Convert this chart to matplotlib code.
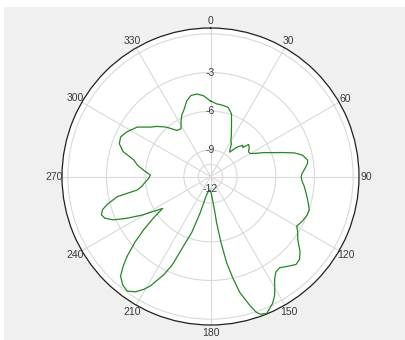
import numpy as np
import matplotlib.pyplot as plt
from matplotlib.patches import Rectangle

# radiation pattern, gain in dB versus azimuth in degrees (clockwise from north)
angles = [0, 4.8, 9, 14.3, 18.5, 20.6, 26.1, 30, 32.6, 35, 38.2, 42, 46, 48, 50, 53, 57, 60,
          63, 66, 69, 71.6, 74.3, 77, 80.4, 82.3, 85, 88, 90, 93, 96, 99.9, 103.7, 108.6,
          112, 116, 120, 122, 125.9, 130, 133, 135.8, 139, 142.9, 145.5, 148.1, 150, 151.8,
          154, 157.7, 160, 161.3, 163, 165.8, 167.6, 169.4, 171, 172.5, 173.1, 174.6, 176.5,
          179, 182, 186, 190, 192.7, 195.9, 198.5, 201.2, 203.4, 205.5, 208.8, 210.6, 213,
          216, 219, 222.1, 224.2, 226.3, 229, 231.5, 234, 236.3, 238.5, 240.5, 243.5, 246,
          248.5, 250.7, 252.9, 255, 257.8, 259.6, 262, 264.2, 268, 271.4, 275, 278.9, 282.1,
          286, 289.8, 293.7, 298, 304, 309.5, 313.2, 318, 324, 328.3, 332, 335, 337.8, 342.7,
          346.5, 350.6, 355, 359.6]
gain = [-5.2, -5.41, -5.45, -5.53, -5.94, -6.43, -7.38, -7.9, -8.05, -8.4, -8.66, -8.0, -7.58,
        -7.7, -7.2, -7.3, -7.55, -7.5, -7.1, -6.5, -5.9, -5.17, -4.3, -3.73, -3.43, -3.47,
        -3.7, -3.95, -4.04, -3.95, -3.75, -3.54, -3.3, -2.98, -3.0, -3.15, -3.35, -3.1, -2.71,
        -2.0, -1.63, -1.55, -1.85, -2.19, -2.1, -1.66, -1.1, -0.55, -0.1, 0.42, 0.3, 0.07,
        -0.6, -1.78, -3.0, -4.27, -5.9, -7.45, -8.33, -9.12, -9.6, -9.9, -10.0, -9.95, -9.8,
        -9.5, -8.14, -6.5, -5.28, -3.6, -2.6, -1.38, -0.9, -0.4, -0.08, -0.25, -0.66, -1.35,
        -2.13, -3.3, -4.46, -5.6, -6.6, -5.9, -5.0, -3.8, -2.8, -2.25, -2.1, -2.3, -2.8,
        -3.67, -5.3, -5.7, -5.9, -6.25, -6.4, -5.9, -5.32, -4.99, -4.0, -3.55, -3.45, -3.7,
        -4.21, -5.04, -5.39, -5.9, -6.65, -6.71, -6.2, -5.8, -5.55, -4.9, -4.6, -4.58, -4.77,
        -5.18]

r_ticks = [-12, -9, -6, -3]
theta_ticks = list(range(0, 360, 30))
rmin, rmax = -11.06, 0.45

fig = plt.figure(figsize=(4.06, 3.40), dpi=100, facecolor='#f0f0f0')
# thin white margin along the top and left edge
fig.patches.append(Rectangle((0, 333 / 340), 1, 7 / 340, transform=fig.transFigure,
                             facecolor='white', edgecolor='none', zorder=-10))
fig.patches.append(Rectangle((0, 0), 4 / 406, 1, transform=fig.transFigure,
                             facecolor='white', edgecolor='none', zorder=-10))

ax = fig.add_axes([62 / 406, 15 / 340, 297 / 406, 297 / 340], projection='polar')
ax.set_theta_zero_location('N')
ax.set_theta_direction(-1)
ax.set_ylim(rmin, rmax)
ax.set_facecolor('white')

ax.set_xticks(np.radians(theta_ticks))
ax.set_xticklabels([])
ax.set_yticks([-9, -6, -3, 0])
ax.set_yticklabels([])
ax.grid(True, color='#d9d9d9', lw=0.8)
ax.spines['polar'].set_color('#202020')
ax.spines['polar'].set_linewidth(0.9)
ax.tick_params(length=0)

# -12 sits below the axis origin, so its ring shows up mirrored around the centre
r12 = 2 * rmin - r_ticks[0]
tt = np.linspace(0, 2 * np.pi, 200)
ax.plot(tt, np.full_like(tt, r12), color='#d9d9d9', lw=0.8, zorder=1)

lab = dict(fontsize=7.5, color='#3a3a3a', family='Liberation Sans', ha='center', va='center')
ax.text(np.pi, r12, str(r_ticks[0]), **lab, zorder=4)
for v in r_ticks[1:]:
    ax.text(0, v, str(v), **lab, zorder=4)

r_lab = rmin + 156 / 148.5 * (rmax - rmin)
for a in theta_ticks:
    ax.text(np.radians(a), r_lab, str(a), clip_on=False, **lab)

th = np.radians(angles + [angles[0] + 360])
g = gain + [gain[0]]
ax.plot(th, g, color='#1f8a1f', lw=0.9, zorder=3)

fig.savefig('out.png', dpi=100, facecolor=fig.get_facecolor())
